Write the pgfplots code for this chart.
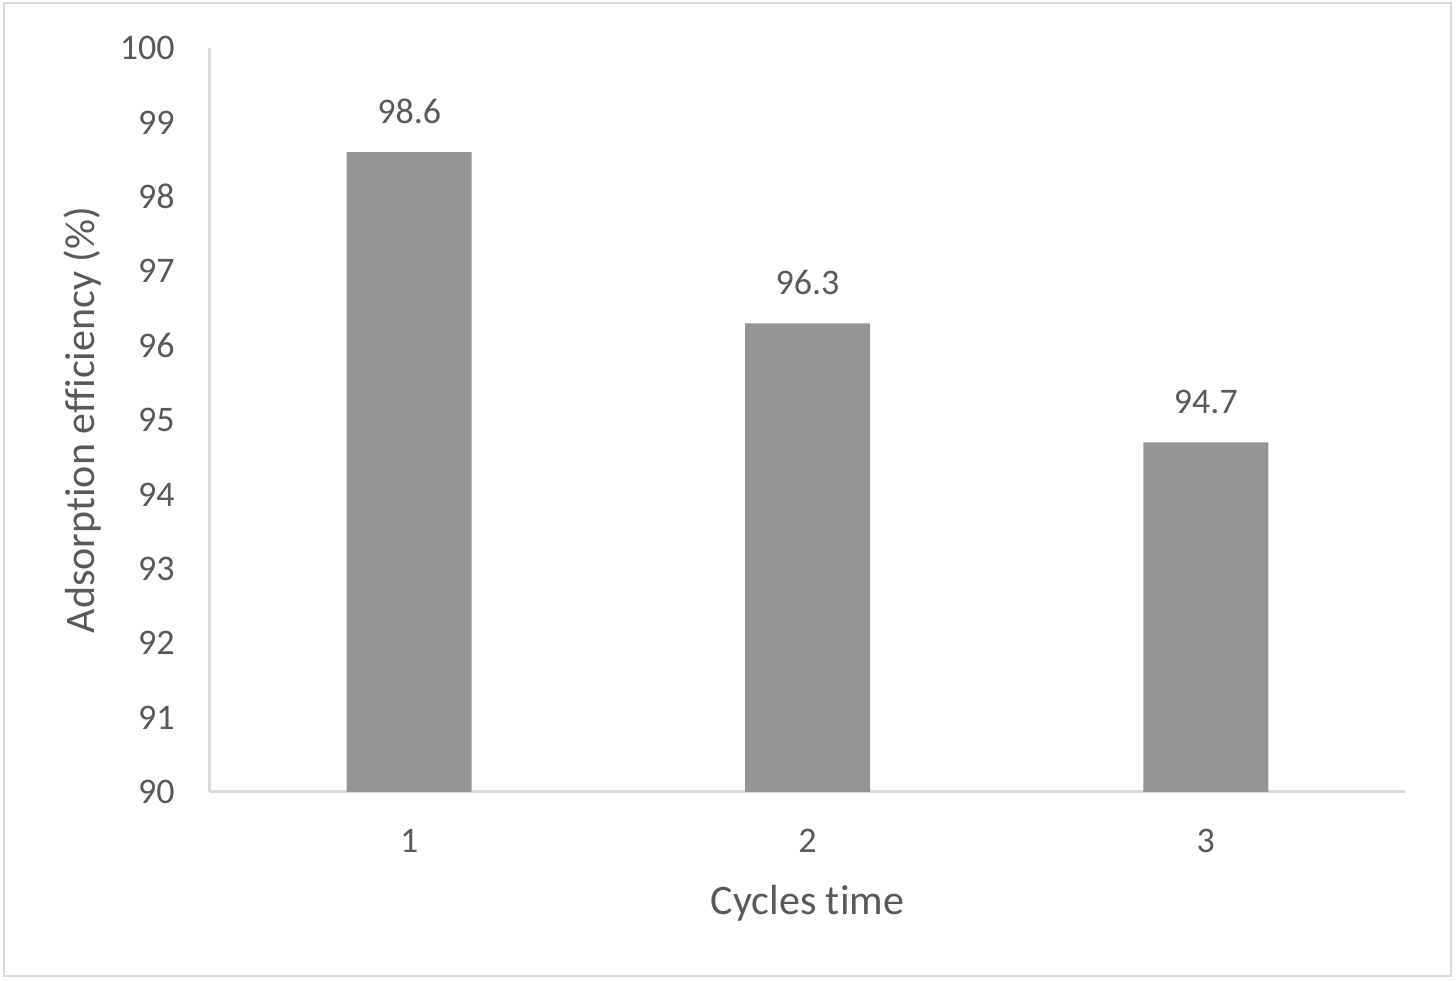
\documentclass[border=0pt]{standalone}
\usepackage{fontspec}
\setmainfont{Carlito}[Ligatures=NoCommon]
\usepackage{pgfplots}
\pgfplotsset{compat=1.18}
\definecolor{txt}{HTML}{595959}
\definecolor{axl}{HTML}{D9D9D9}
\definecolor{barc}{HTML}{959595}
\begin{document}
\begin{tikzpicture}[x=1bp,y=1bp]
\path[use as bounding box] (-105,-94.5) rectangle (623,396);
\draw[axl, line width=1.1bp] (-103,-92) rectangle (620.5,394.5);
\begin{axis}[
  at={(0,0)}, anchor=south west,
  scale only axis, width=597.5bp, height=372bp,
  xmin=0.5, xmax=3.5, ymin=90, ymax=100,
  xtick={1,2,3}, ytick={90,91,...,100},
  axis lines*=left,
  axis line style={axl, line width=1.5bp},
  major tick length=0pt,
  tick style={draw=none},
  ticklabel style={font=\fontsize{18bp}{21bp}\selectfont, color=txt},
  /pgf/number format/assume math mode=true,
  yticklabel style={anchor=east, inner sep=0pt, xshift=-17.5bp},
  xticklabel style={anchor=north, inner sep=0pt, yshift=-18.5bp},
  xlabel={Cycles time},
  ylabel={Adsorption efficiency (\%)},
  label style={font=\fontsize{21bp}{25bp}\selectfont, color=txt},
  xlabel style={at={(axis description cs:0.5,-0.1245)}, anchor=north, inner sep=0pt},
  ylabel style={at={(axis description cs:-0.0904,0.5)}, anchor=south, rotate=0, inner sep=0pt},
  clip=true,
]
\addplot[ybar, bar width=62.5bp, fill=barc, draw=none,
  nodes near coords,
  nodes near coords style={font=\fontsize{18bp}{21bp}\selectfont, color=txt, anchor=south, inner sep=0pt, yshift=14bp},
  /pgf/number format/fixed, /pgf/number format/precision=1,
  /pgf/number format/fixed zerofill, /pgf/number format/assume math mode=true]
  coordinates {(1,98.6) (2,96.3) (3,94.7)};
\end{axis}
\end{tikzpicture}
\end{document}
